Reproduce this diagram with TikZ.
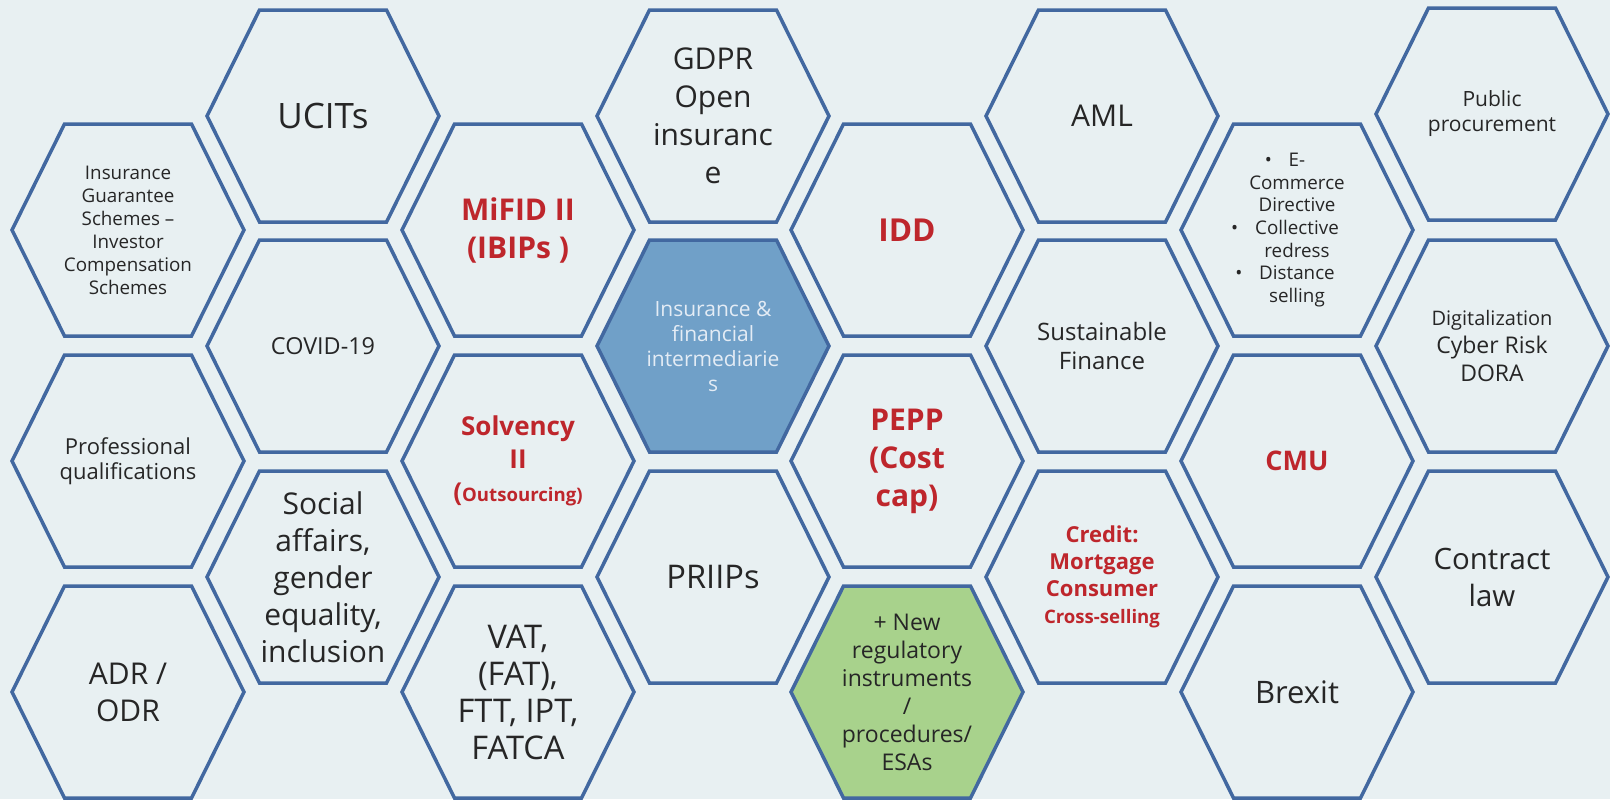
\documentclass[tikz,border=0pt]{standalone}
\usepackage{fontspec}
\setmainfont{Open Sans}
\definecolor{bgGrey}{RGB}{232,240,242}
\definecolor{hexBlue}{RGB}{66,104,160}
\definecolor{coreBlue}{RGB}{112,160,200}
\definecolor{newGreen}{RGB}{168,210,140}
\definecolor{lawRed}{RGB}{190,38,44}
\definecolor{inkGrey}{RGB}{38,38,38}
\definecolor{coreInk}{RGB}{228,236,245}
\tikzstyle{hexLine}=[draw=hexBlue, line width=1.75pt, line join=miter]
\tikzstyle{hexText}=[align=center, text=inkGrey, inner sep=0pt]
\tikzstyle{redText}=[hexText, text=lawRed, font=\bfseries]
% [fill] {x,y} {name} {node options} {text}
\newcommand{\hexCell}[5][]{%
	\draw[hexLine, #1, shift={(#2)}] (-116,0) -- (-63.5,-106) -- (63.5,-106) -- (116,0) -- (63.5,106) -- (-63.5,106) -- cycle;
	\node[#4] (#3) at (#2) {#5};}
\newcommand{\bul}{\llap{\textbullet\hspace{0.9em}}}

\begin{document}
\begin{tikzpicture}[x=0.5pt, y=-0.5pt]
	\fill[bgGrey] (0,0) rectangle (1610,799);
	\useasboundingbox (0,0) rectangle (1610,799);
	
	% column 1
	\hexCell{128,230}{igs}{hexText, font=\fontsize{9.4}{11.5}\selectfont}{Insurance\\Guarantee\\Schemes --\\Investor\\Compensation\\Schemes}
	\hexCell{128,461}{profq}{hexText, font=\fontsize{11}{12.5}\selectfont}{Professional\\qualifications}
	\hexCell{128,692}{adr}{hexText, font=\fontsize{15}{18.5}\selectfont}{ADR /\\ODR}
	
	% column 2
	\hexCell{323,116}{ucits}{hexText, font=\fontsize{17.5}{21}\selectfont}{UCITs}
	\hexCell{323,346}{covid}{hexText, font=\fontsize{11.7}{14}\selectfont}{COVID-19}
	\hexCell{323,577}{social}{hexText, font=\fontsize{15}{18.5}\selectfont}{Social\\affairs,\\gender\\equality,\\inclusion}
	
	% column 3
	\hexCell{518,230}{mifid}{redText, font=\bfseries\fontsize{15}{19}\selectfont}{MiFID II\\(IBIPs )}
	\hexCell{518,461}{solv}{redText, font=\bfseries\fontsize{13}{16.5}\selectfont}{Solvency\\II\\({\fontsize{9.3}{11}\selectfont Outsourcing)}}
	\hexCell{518,692}{vat}{hexText, font=\fontsize{16.3}{18.5}\selectfont}{VAT,\\(FAT),\\FTT, IPT,\\FATCA}
	
	% column 4
	\hexCell{713,116}{gdpr}{hexText, font=\fontsize{15}{19}\selectfont}{GDPR\\Open\\insuranc\\e}
	\hexCell[fill=coreBlue]{713,346}{core}{hexText, text=coreInk, font=\fontsize{10.5}{12.5}\selectfont}{Insurance \&\\financial\\intermediarie\\s}
	\hexCell{713,577}{priips}{hexText, font=\fontsize{16.3}{19}\selectfont}{PRIIPs}
	
	% column 5
	\hexCell{907,230}{idd}{redText, font=\bfseries\fontsize{15.8}{19}\selectfont}{IDD}
	\hexCell{907,461}{pepp}{redText, font=\bfseries\fontsize{15}{19}\selectfont}{PEPP\\(Cost\\cap)}
	\hexCell[fill=newGreen]{907,692}{esas}{hexText, font=\fontsize{11.5}{14}\selectfont}{+ New\\regulatory\\instruments\\/\\procedures/\\ESAs}
	
	% column 6
	\hexCell{1102,116}{aml}{hexText, font=\fontsize{15}{19}\selectfont}{AML}
	\hexCell{1102,346}{sfin}{hexText, font=\fontsize{12}{14.5}\selectfont}{Sustainable\\Finance}
	\hexCell{1102,577}{credit}{redText, font=\bfseries\fontsize{11}{13.5}\selectfont}{Credit:\\Mortgage\\Consumer\\{\fontsize{9.3}{11}\selectfont Cross-selling}}
	
	% column 7
	\hexCell{1297,230}{ecom}{hexText, font=\fontsize{9.4}{11.3}\selectfont}{\bul E-\\Commerce\\Directive\\\bul Collective\\redress\\\bul Distance\\selling}
	\hexCell{1297,461}{cmu}{redText, font=\bfseries\fontsize{13.5}{16}\selectfont}{CMU}
	\hexCell{1297,692}{brexit}{hexText, font=\fontsize{15.5}{19}\selectfont}{Brexit}
	
	% column 8
	\hexCell{1492,114}{pubp}{hexText, font=\fontsize{10.5}{12.5}\selectfont}{Public\\procurement}
	\hexCell{1492,346}{digit}{hexText, font=\fontsize{11.5}{14}\selectfont}{{\fontsize{10}{12}\selectfont Digitalization}\\Cyber Risk\\DORA}
	\hexCell{1492,577}{contract}{hexText, font=\fontsize{14.7}{18.5}\selectfont}{Contract\\law}
\end{tikzpicture}
\end{document}
